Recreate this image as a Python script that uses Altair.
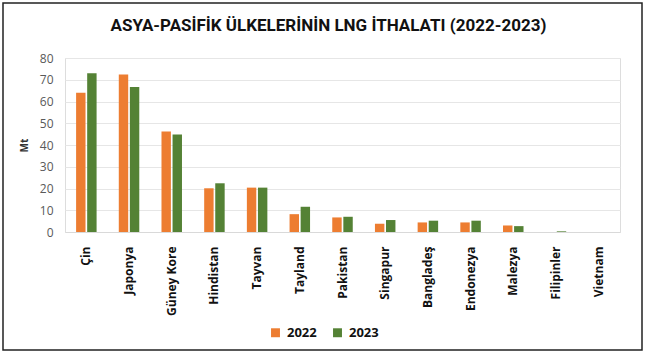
import altair as alt
import pandas as pd

countries = ["Çin", "Japonya", "Güney Kore", "Hindistan", "Tayvan", "Tayland",
             "Pakistan", "Singapur", "Bangladeş", "Endonezya", "Malezya",
             "Filipinler", "Vietnam"]
v2022 = [64.0, 72.4, 46.2, 20.1, 20.4, 8.2, 6.7, 3.8, 4.4, 4.4, 3.0, 0.0, 0.0]
v2023 = [73.0, 66.7, 44.8, 22.4, 20.4, 11.6, 7.0, 5.5, 5.2, 5.2, 2.7, 0.3, 0.0]
years = ["2022", "2023"]
colors = ["#ED7D31", "#548235"]

rows = []
for c, a, b in zip(countries, v2022, v2023):
    rows.append({"ulke": c, "yil": "2022", "deger": a})
    rows.append({"ulke": c, "yil": "2023", "deger": b})
df = pd.DataFrame(rows)

bars = alt.Chart(df).mark_bar().encode(
    x=alt.X("ulke:N", sort=countries,
            scale=alt.Scale(paddingInner=0.52, paddingOuter=0.26),
            axis=alt.Axis(title=None, labelAngle=270, labelAlign="right",
                          labelBaseline="middle", labelPadding=14,
                          labelFont="Open Sans", labelFontWeight="bold",
                          labelFontSize=12, labelColor="#111111",
                          ticks=False, domainColor="#d9d9d9", grid=False)),
    xOffset=alt.XOffset("yil:N", sort=years, scale=alt.Scale(paddingInner=0.15)),
    y=alt.Y("deger:Q", scale=alt.Scale(domain=[0, 80]),
            axis=alt.Axis(title="Mt", values=list(range(0, 81, 10)),
                          titleFont="Open Sans", titleFontSize=10,
                          titleFontWeight="bold", titleColor="#333333",
                          titlePadding=10,
                          labelFont="Open Sans", labelFontSize=12,
                          labelColor="#595959", labelPadding=12,
                          domain=False, ticks=False,
                          gridColor="#e6e6e6")),
    color=alt.Color("yil:N", sort=years,
                    scale=alt.Scale(domain=years, range=colors),
                    legend=alt.Legend(title=None, orient="none", direction="horizontal",
                                      legendX=204, legendY=268,
                                      symbolType="square", symbolSize=80,
                                      symbolStrokeWidth=0,
                                      labelFont="Open Sans", labelFontWeight="bold",
                                      labelFontSize=13, labelColor="#111111",
                                      columnPadding=14, labelOffset=5)),
)

frame = alt.Chart(pd.DataFrame({"k": [0]})).mark_rect(
    fill=None, stroke="#222222", strokeWidth=1.5
).encode(
    x=alt.value(-62), x2=alt.value(577), y=alt.value(-55), y2=alt.value(292)
)

chart = alt.layer(bars, frame).properties(
    width=555, height=174,
    title=alt.TitleParams(
        "ASYA-PASİFİK ÜLKELERİNİN LNG İTHALATI (2022-2023)",
        anchor="middle", font="Roboto", fontSize=17,
        fontWeight="bold", color="#111111", offset=-33, frame="group",
        dx=-14
    ),
    autosize=alt.AutoSizeParams(type="none"),
    padding={"left": 65, "top": 58, "right": 27, "bottom": 121},
).configure_view(stroke=None).configure(background="white")

chart.save("out.html", embed_options={"renderer": "svg", "actions": False})
